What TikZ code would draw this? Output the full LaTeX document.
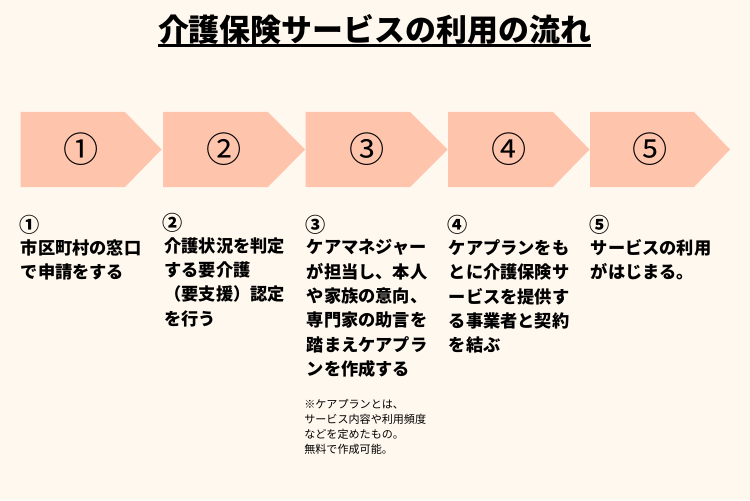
\documentclass[tikz,border=0pt]{standalone}
\usepackage{fontspec}
\newfontfamily\cjk{Noto Sans CJK JP}
\definecolor{paper}{HTML}{FFF8EF}
\definecolor{salmon}{HTML}{FFC4AC}
\tikzset{
    stepnum/.style={font=\cjk\fontsize{20}{20}\selectfont},
    smallnum/.style={anchor=center, inner sep=0pt, font=\cjk\bfseries\fontsize{11.5}{12}\selectfont},
    body/.style={anchor=north west, inner sep=0pt, align=left, font=\cjk\bfseries\fontsize{9.8}{13.9}\selectfont},
    note/.style={anchor=north west, inner sep=0pt, align=left, font=\cjk\fontsize{6.3}{8.5}\selectfont}
}
\newcommand{\arrowbox}[6]{
    \fill[salmon](#1, 112)--(#2, 112)--(#3, 149.5)--(#2, 187)--(#1, 187)--cycle;
    \node[stepnum](#6)at(#4, 149){#5};
}
\begin{document}
\begin{tikzpicture}[x=.02cm, y=-.02cm]
    \useasboundingbox(0, 0)rectangle(750, 500);
    \fill[paper](0, 0)rectangle(750, 500);
    \node[inner sep=0pt, font=\cjk\bfseries\fontsize{17.6}{20}\selectfont](title)at(374.5, 29.5){介護保険サービスの利用の流れ};
    \draw[line width=1.7pt](158, 45.5)--(591, 45.5);
    \arrowbox{20.5}{125}{161.5}{81.5}{①}{s1}
    \arrowbox{163}{268}{305}{224.5}{②}{s2}
    \arrowbox{305.5}{410}{447.5}{367}{③}{s3}
    \arrowbox{448}{553}{589.5}{509.5}{④}{s4}
    \arrowbox{590}{694}{730}{650.5}{⑤}{s5}
    \node[smallnum](n1)at(29.5, 224.5){①};
    \node[smallnum](n2)at(173, 222.5){②};
    \node[smallnum](n3)at(315.5, 224.5){③};
    \node[smallnum](n4)at(458, 224.5){④};
    \node[smallnum](n5)at(600, 224.5){⑤};
    \node[body](t1)at(20.5, 239){市区町村の窓口\\で申請をする};
    \node[body](t2)at(164, 237){介護状況を判定\\する要介護\\（要支援）認定\\を行う};
    \node[body](t3)at(306.5, 239){ケアマネジャー\\が担当し、本人\\や家族の意向、\\専門家の助言を\\踏まえケアプラ\\ンを作成する};
    \node[body](t4)at(448.5, 239){ケアプランをも\\とに介護保険サ\\ービスを提供す\\る事業者と契約\\を結ぶ};
    \node[body](t5)at(590.5, 239){サービスの利用\\がはじまる。};
    \node[note](remark)at(304, 399){※ケアプランとは、\\サービス内容や利用頻度\\などを定めたもの。\\無料で作成可能。};
\end{tikzpicture}
\end{document}
